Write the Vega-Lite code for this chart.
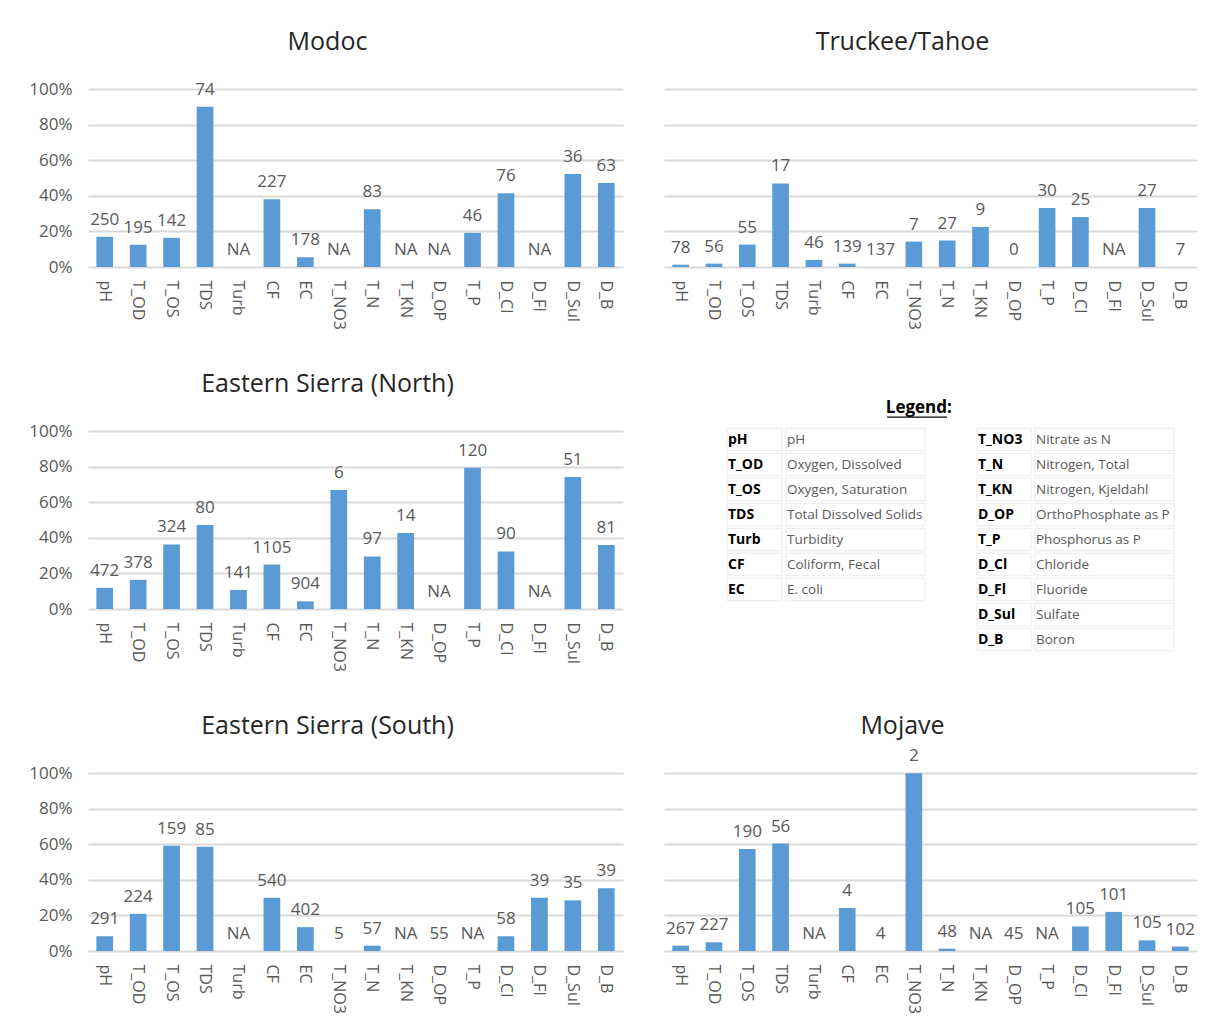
{
  "$schema": "https://vega.github.io/schema/vega-lite/v6.json",
  "background": "white",
  "padding": {"left": 28, "top": 30, "right": 5, "bottom": 5},
  "config": {
    "font": "Open Sans",
    "view": {"stroke": null},
    "title": {"fontSize": 25, "fontWeight": "normal", "color": "#262626", "anchor": "middle", "frame": "group", "dx": -28, "baseline": "alphabetic", "offset": 4},
    "axis": {"labelFont": "Open Sans", "labelColor": "#595959", "ticks": false, "domain": false, "title": null, "gridColor": "#d9d9d9", "gridWidth": 1.8}
  },
  "datasets": {
    "bars": [
      {"region": "Modoc", "param": "pH", "pct": 0.170, "label": "250"},
      {"region": "Modoc", "param": "T_OD", "pct": 0.125, "label": "195"},
      {"region": "Modoc", "param": "T_OS", "pct": 0.164, "label": "142"},
      {"region": "Modoc", "param": "TDS", "pct": 0.902, "label": "74"},
      {"region": "Modoc", "param": "Turb", "pct": 0, "label": "NA"},
      {"region": "Modoc", "param": "CF", "pct": 0.381, "label": "227"},
      {"region": "Modoc", "param": "EC", "pct": 0.055, "label": "178"},
      {"region": "Modoc", "param": "T_NO3", "pct": 0, "label": "NA"},
      {"region": "Modoc", "param": "T_N", "pct": 0.325, "label": "83"},
      {"region": "Modoc", "param": "T_KN", "pct": 0, "label": "NA"},
      {"region": "Modoc", "param": "D_OP", "pct": 0, "label": "NA"},
      {"region": "Modoc", "param": "T_P", "pct": 0.192, "label": "46"},
      {"region": "Modoc", "param": "D_Cl", "pct": 0.415, "label": "76"},
      {"region": "Modoc", "param": "D_Fl", "pct": 0, "label": "NA"},
      {"region": "Modoc", "param": "D_Sul", "pct": 0.523, "label": "36"},
      {"region": "Modoc", "param": "D_B", "pct": 0.472, "label": "63"},

      {"region": "Truckee", "param": "pH", "pct": 0.013, "label": "78"},
      {"region": "Truckee", "param": "T_OD", "pct": 0.019, "label": "56"},
      {"region": "Truckee", "param": "T_OS", "pct": 0.126, "label": "55"},
      {"region": "Truckee", "param": "TDS", "pct": 0.470, "label": "17"},
      {"region": "Truckee", "param": "Turb", "pct": 0.040, "label": "46"},
      {"region": "Truckee", "param": "CF", "pct": 0.019, "label": "139"},
      {"region": "Truckee", "param": "EC", "pct": 0, "label": "137"},
      {"region": "Truckee", "param": "T_NO3", "pct": 0.143, "label": "7"},
      {"region": "Truckee", "param": "T_N", "pct": 0.149, "label": "27"},
      {"region": "Truckee", "param": "T_KN", "pct": 0.225, "label": "9"},
      {"region": "Truckee", "param": "D_OP", "pct": 0, "label": "0"},
      {"region": "Truckee", "param": "T_P", "pct": 0.332, "label": "30"},
      {"region": "Truckee", "param": "D_Cl", "pct": 0.281, "label": "25"},
      {"region": "Truckee", "param": "D_Fl", "pct": 0, "label": "NA"},
      {"region": "Truckee", "param": "D_Sul", "pct": 0.332, "label": "27"},
      {"region": "Truckee", "param": "D_B", "pct": 0, "label": "7"},

      {"region": "ESN", "param": "pH", "pct": 0.119, "label": "472"},
      {"region": "ESN", "param": "T_OD", "pct": 0.164, "label": "378"},
      {"region": "ESN", "param": "T_OS", "pct": 0.363, "label": "324"},
      {"region": "ESN", "param": "TDS", "pct": 0.473, "label": "80"},
      {"region": "ESN", "param": "Turb", "pct": 0.107, "label": "141"},
      {"region": "ESN", "param": "CF", "pct": 0.250, "label": "1105"},
      {"region": "ESN", "param": "EC", "pct": 0.043, "label": "904"},
      {"region": "ESN", "param": "T_NO3", "pct": 0.669, "label": "6"},
      {"region": "ESN", "param": "T_N", "pct": 0.296, "label": "97"},
      {"region": "ESN", "param": "T_KN", "pct": 0.427, "label": "14"},
      {"region": "ESN", "param": "D_OP", "pct": 0, "label": "NA"},
      {"region": "ESN", "param": "T_P", "pct": 0.795, "label": "120"},
      {"region": "ESN", "param": "D_Cl", "pct": 0.324, "label": "90"},
      {"region": "ESN", "param": "D_Fl", "pct": 0, "label": "NA"},
      {"region": "ESN", "param": "D_Sul", "pct": 0.742, "label": "51"},
      {"region": "ESN", "param": "D_B", "pct": 0.360, "label": "81"},

      {"region": "ESS", "param": "pH", "pct": 0.083, "label": "291"},
      {"region": "ESS", "param": "T_OD", "pct": 0.209, "label": "224"},
      {"region": "ESS", "param": "T_OS", "pct": 0.592, "label": "159"},
      {"region": "ESS", "param": "TDS", "pct": 0.587, "label": "85"},
      {"region": "ESS", "param": "Turb", "pct": 0, "label": "NA"},
      {"region": "ESS", "param": "CF", "pct": 0.300, "label": "540"},
      {"region": "ESS", "param": "EC", "pct": 0.134, "label": "402"},
      {"region": "ESS", "param": "T_NO3", "pct": 0, "label": "5"},
      {"region": "ESS", "param": "T_N", "pct": 0.030, "label": "57"},
      {"region": "ESS", "param": "T_KN", "pct": 0, "label": "NA"},
      {"region": "ESS", "param": "D_OP", "pct": 0, "label": "55"},
      {"region": "ESS", "param": "T_P", "pct": 0, "label": "NA"},
      {"region": "ESS", "param": "D_Cl", "pct": 0.083, "label": "58"},
      {"region": "ESS", "param": "D_Fl", "pct": 0.300, "label": "39"},
      {"region": "ESS", "param": "D_Sul", "pct": 0.285, "label": "35"},
      {"region": "ESS", "param": "D_B", "pct": 0.353, "label": "39"},

      {"region": "Mojave", "param": "pH", "pct": 0.030, "label": "267"},
      {"region": "Mojave", "param": "T_OD", "pct": 0.049, "label": "227"},
      {"region": "Mojave", "param": "T_OS", "pct": 0.574, "label": "190"},
      {"region": "Mojave", "param": "TDS", "pct": 0.604, "label": "56"},
      {"region": "Mojave", "param": "Turb", "pct": 0, "label": "NA"},
      {"region": "Mojave", "param": "CF", "pct": 0.242, "label": "4"},
      {"region": "Mojave", "param": "EC", "pct": 0, "label": "4"},
      {"region": "Mojave", "param": "T_NO3", "pct": 1.0, "label": "2"},
      {"region": "Mojave", "param": "T_N", "pct": 0.013, "label": "48"},
      {"region": "Mojave", "param": "T_KN", "pct": 0, "label": "NA"},
      {"region": "Mojave", "param": "D_OP", "pct": 0, "label": "45"},
      {"region": "Mojave", "param": "T_P", "pct": 0, "label": "NA"},
      {"region": "Mojave", "param": "D_Cl", "pct": 0.138, "label": "105"},
      {"region": "Mojave", "param": "D_Fl", "pct": 0.220, "label": "101"},
      {"region": "Mojave", "param": "D_Sul", "pct": 0.060, "label": "105"},
      {"region": "Mojave", "param": "D_B", "pct": 0.025, "label": "102"}
    ],
    "legend": [
      {"side": "L", "row": 1, "code": "pH", "desc": "pH"},
      {"side": "L", "row": 2, "code": "T_OD", "desc": "Oxygen, Dissolved"},
      {"side": "L", "row": 3, "code": "T_OS", "desc": "Oxygen, Saturation"},
      {"side": "L", "row": 4, "code": "TDS", "desc": "Total Dissolved Solids"},
      {"side": "L", "row": 5, "code": "Turb", "desc": "Turbidity"},
      {"side": "L", "row": 6, "code": "CF", "desc": "Coliform, Fecal"},
      {"side": "L", "row": 7, "code": "EC", "desc": "E. coli"},
      {"side": "R", "row": 1, "code": "T_NO3", "desc": "Nitrate as N"},
      {"side": "R", "row": 2, "code": "T_N", "desc": "Nitrogen, Total"},
      {"side": "R", "row": 3, "code": "T_KN", "desc": "Nitrogen, Kjeldahl"},
      {"side": "R", "row": 4, "code": "D_OP", "desc": "OrthoPhosphate as P"},
      {"side": "R", "row": 5, "code": "T_P", "desc": "Phosphorus as P"},
      {"side": "R", "row": 6, "code": "D_Cl", "desc": "Chloride"},
      {"side": "R", "row": 7, "code": "D_Fl", "desc": "Fluoride"},
      {"side": "R", "row": 8, "code": "D_Sul", "desc": "Sulfate"},
      {"side": "R", "row": 9, "code": "D_B", "desc": "Boron"}
    ]
  },
  "spacing": 42,
  "vconcat": [
    {
      "spacing": 41,
      "hconcat": [
        {
          "title": "Modoc",
          "width": 535, "height": 208,
          "data": {"name": "bars"},
          "transform": [{"filter": "datum.region === 'Modoc'"}],
          "encoding": {
            "x": {"field": "param", "type": "nominal", "sort": ["pH","T_OD","T_OS","TDS","Turb","CF","EC","T_NO3","T_N","T_KN","D_OP","T_P","D_Cl","D_Fl","D_Sul","D_B"], "scale": {"paddingInner": 0.5, "paddingOuter": 0.25}, "axis": {"labelAngle": 90, "labelFontSize": 16, "labelPadding": 13, "grid": false}},
            "y": {"field": "pct", "type": "quantitative", "scale": {"domain": [0, 1.17], "nice": false}, "axis": {"values": [0, 0.2, 0.4, 0.6, 0.8, 1], "format": ".0%", "labelFontSize": 17, "labelPadding": 16}}
          },
          "layer": [
            {"mark": {"type": "bar", "color": "#5b9bd5"}},
            {"mark": {"type": "text", "baseline": "middle", "dy": -17, "fontSize": 17, "color": "#595959"}, "encoding": {"text": {"field": "label"}}}
          ]
        },
        {
          "title": "Truckee/Tahoe",
          "width": 533, "height": 208,
          "data": {"name": "bars"},
          "transform": [{"filter": "datum.region === 'Truckee'"}],
          "encoding": {
            "x": {"field": "param", "type": "nominal", "sort": ["pH","T_OD","T_OS","TDS","Turb","CF","EC","T_NO3","T_N","T_KN","D_OP","T_P","D_Cl","D_Fl","D_Sul","D_B"], "scale": {"paddingInner": 0.5, "paddingOuter": 0.25}, "axis": {"labelAngle": 90, "labelFontSize": 16, "labelPadding": 13, "grid": false}},
            "y": {"field": "pct", "type": "quantitative", "scale": {"domain": [0, 1.17], "nice": false}, "axis": {"values": [0, 0.2, 0.4, 0.6, 0.8, 1], "labels": false}}
          },
          "layer": [
            {"mark": {"type": "bar", "color": "#5b9bd5"}},
            {"mark": {"type": "text", "baseline": "middle", "dy": -17, "fontSize": 17, "color": "#595959"}, "encoding": {"text": {"field": "label"}}}
          ]
        }
      ]
    },
    {
      "spacing": 103,
      "hconcat": [
        {
          "title": "Eastern Sierra (North)",
          "width": 535, "height": 208,
          "data": {"name": "bars"},
          "transform": [{"filter": "datum.region === 'ESN'"}],
          "encoding": {
            "x": {"field": "param", "type": "nominal", "sort": ["pH","T_OD","T_OS","TDS","Turb","CF","EC","T_NO3","T_N","T_KN","D_OP","T_P","D_Cl","D_Fl","D_Sul","D_B"], "scale": {"paddingInner": 0.5, "paddingOuter": 0.25}, "axis": {"labelAngle": 90, "labelFontSize": 16, "labelPadding": 13, "grid": false}},
            "y": {"field": "pct", "type": "quantitative", "scale": {"domain": [0, 1.17], "nice": false}, "axis": {"values": [0, 0.2, 0.4, 0.6, 0.8, 1], "format": ".0%", "labelFontSize": 17, "labelPadding": 16}}
          },
          "layer": [
            {"mark": {"type": "bar", "color": "#5b9bd5"}},
            {"mark": {"type": "text", "baseline": "middle", "dy": -17, "fontSize": 17, "color": "#595959"}, "encoding": {"text": {"field": "label"}}}
          ]
        },
        {
          "spacing": 2,
          "vconcat": [
            {
              "width": 441, "height": 24,
              "data": {"values": [{"t": "Legend:"}]},
              "layer": [
                {"mark": {"type": "text", "fontWeight": "bold", "fontSize": 17, "color": "#000000", "baseline": "middle"},
                 "encoding": {"text": {"field": "t"}, "x": {"datum": 0.435, "type": "quantitative", "scale": {"domain": [0, 1]}, "axis": null}, "y": {"datum": 0.71, "type": "quantitative", "scale": {"domain": [0, 1]}, "axis": null}}},
                {"mark": {"type": "rule", "color": "#000000", "strokeWidth": 1.2},
                 "encoding": {"x": {"datum": 0.363, "type": "quantitative"}, "x2": {"datum": 0.499}, "y": {"datum": 0.33, "type": "quantitative"}}}
              ]
            },
            {
              "spacing": 50,
              "hconcat": [
                {
                  "spacing": 2,
                  "hconcat": [
                    {
                      "width": 55, "height": {"step": 25},
                      "data": {"name": "legend"},
                      "transform": [{"filter": "datum.side === 'L'"}],
                      "encoding": {"y": {"field": "row", "type": "ordinal", "axis": null, "scale": {"paddingInner": 0.1, "paddingOuter": 0.05}}},
                      "layer": [
                        {"mark": {"type": "rect", "fill": "white", "stroke": "#ebebeb", "strokeWidth": 1}, "encoding": {"x": {"datum": 0, "type": "quantitative", "scale": {"domain": [0, 1]}, "axis": null}, "x2": {"datum": 1}}},
                        {"mark": {"type": "text", "align": "left", "dx": 1, "fontWeight": "bold", "fontSize": 14, "color": "#000000"}, "encoding": {"x": {"datum": 0, "type": "quantitative"}, "text": {"field": "code"}}}
                      ]
                    },
                    {
                      "width": 139, "height": {"step": 25},
                      "data": {"name": "legend"},
                      "transform": [{"filter": "datum.side === 'L'"}],
                      "encoding": {"y": {"field": "row", "type": "ordinal", "axis": null, "scale": {"paddingInner": 0.1, "paddingOuter": 0.05}}},
                      "layer": [
                        {"mark": {"type": "rect", "fill": "white", "stroke": "#ebebeb", "strokeWidth": 1}, "encoding": {"x": {"datum": 0, "type": "quantitative", "scale": {"domain": [0, 1]}, "axis": null}, "x2": {"datum": 1}}},
                        {"mark": {"type": "text", "align": "left", "dx": 1, "fontSize": 13.5, "color": "#595959"}, "encoding": {"x": {"datum": 0, "type": "quantitative"}, "text": {"field": "desc"}}}
                      ]
                    }
                  ]
                },
                {
                  "spacing": 2,
                  "hconcat": [
                    {
                      "width": 54, "height": {"step": 25},
                      "data": {"name": "legend"},
                      "transform": [{"filter": "datum.side === 'R'"}],
                      "encoding": {"y": {"field": "row", "type": "ordinal", "axis": null, "scale": {"paddingInner": 0.1, "paddingOuter": 0.05}}},
                      "layer": [
                        {"mark": {"type": "rect", "fill": "white", "stroke": "#ebebeb", "strokeWidth": 1}, "encoding": {"x": {"datum": 0, "type": "quantitative", "scale": {"domain": [0, 1]}, "axis": null}, "x2": {"datum": 1}}},
                        {"mark": {"type": "text", "align": "left", "dx": 1, "fontWeight": "bold", "fontSize": 14, "color": "#000000"}, "encoding": {"x": {"datum": 0, "type": "quantitative"}, "text": {"field": "code"}}}
                      ]
                    },
                    {
                      "width": 139, "height": {"step": 25},
                      "data": {"name": "legend"},
                      "transform": [{"filter": "datum.side === 'R'"}],
                      "encoding": {"y": {"field": "row", "type": "ordinal", "axis": null, "scale": {"paddingInner": 0.1, "paddingOuter": 0.05}}},
                      "layer": [
                        {"mark": {"type": "rect", "fill": "white", "stroke": "#ebebeb", "strokeWidth": 1}, "encoding": {"x": {"datum": 0, "type": "quantitative", "scale": {"domain": [0, 1]}, "axis": null}, "x2": {"datum": 1}}},
                        {"mark": {"type": "text", "align": "left", "dx": 1, "fontSize": 13.5, "color": "#595959"}, "encoding": {"x": {"datum": 0, "type": "quantitative"}, "text": {"field": "desc"}}}
                      ]
                    }
                  ]
                }
              ]
            }
          ]
        }
      ]
    },
    {
      "spacing": 41,
      "hconcat": [
        {
          "title": "Eastern Sierra (South)",
          "width": 535, "height": 208,
          "data": {"name": "bars"},
          "transform": [{"filter": "datum.region === 'ESS'"}],
          "encoding": {
            "x": {"field": "param", "type": "nominal", "sort": ["pH","T_OD","T_OS","TDS","Turb","CF","EC","T_NO3","T_N","T_KN","D_OP","T_P","D_Cl","D_Fl","D_Sul","D_B"], "scale": {"paddingInner": 0.5, "paddingOuter": 0.25}, "axis": {"labelAngle": 90, "labelFontSize": 16, "labelPadding": 13, "grid": false}},
            "y": {"field": "pct", "type": "quantitative", "scale": {"domain": [0, 1.17], "nice": false}, "axis": {"values": [0, 0.2, 0.4, 0.6, 0.8, 1], "format": ".0%", "labelFontSize": 17, "labelPadding": 16}}
          },
          "layer": [
            {"mark": {"type": "bar", "color": "#5b9bd5"}},
            {"mark": {"type": "text", "baseline": "middle", "dy": -17, "fontSize": 17, "color": "#595959"}, "encoding": {"text": {"field": "label"}}}
          ]
        },
        {
          "title": "Mojave",
          "width": 533, "height": 208,
          "data": {"name": "bars"},
          "transform": [{"filter": "datum.region === 'Mojave'"}],
          "encoding": {
            "x": {"field": "param", "type": "nominal", "sort": ["pH","T_OD","T_OS","TDS","Turb","CF","EC","T_NO3","T_N","T_KN","D_OP","T_P","D_Cl","D_Fl","D_Sul","D_B"], "scale": {"paddingInner": 0.5, "paddingOuter": 0.25}, "axis": {"labelAngle": 90, "labelFontSize": 16, "labelPadding": 13, "grid": false}},
            "y": {"field": "pct", "type": "quantitative", "scale": {"domain": [0, 1.17], "nice": false}, "axis": {"values": [0, 0.2, 0.4, 0.6, 0.8, 1], "labels": false}}
          },
          "layer": [
            {"mark": {"type": "bar", "color": "#5b9bd5"}},
            {"mark": {"type": "text", "baseline": "middle", "dy": -17, "fontSize": 17, "color": "#595959"}, "encoding": {"text": {"field": "label"}}}
          ]
        }
      ]
    }
  ]
}
